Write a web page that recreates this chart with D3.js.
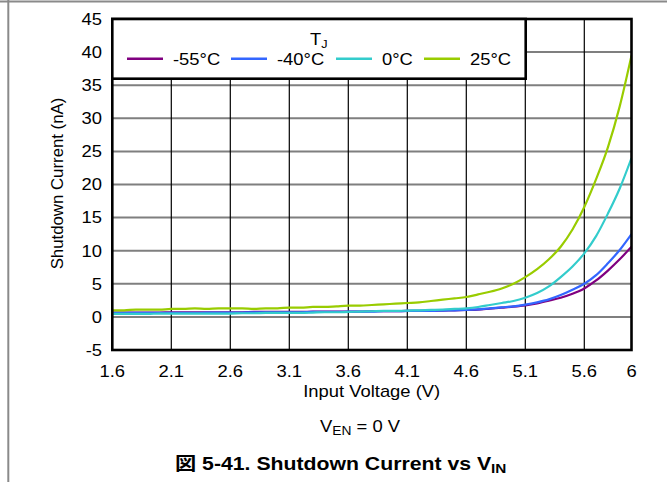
<!DOCTYPE html>
<html>
<head>
<meta charset="utf-8">
<script src="https://cdn.jsdelivr.net/npm/d3@7"></script>
<style>
body { margin: 0; background: #fff; }
text { font-family: "Liberation Sans", Arial, "Noto Sans CJK JP", sans-serif; fill: #000; }
</style>
</head>
<body>
<svg></svg>
<script>
// chart size and plot box
var width = 667;
var height = 482;
var plotLeft = 112.3, plotRight = 631.5, plotTop = 19, plotBottom = 350;
var stretch = 1.15; // text in the reference is a bit wide

// data
var voltage = [1.6,1.7,1.8,1.9,2.0,2.1,2.2,2.3,2.4,2.5,2.6,2.7,2.8,2.9,3.0,3.1,3.2,3.3,3.4,3.5,
               3.6,3.7,3.8,3.9,4.0,4.1,4.2,4.3,4.4,4.5,4.6,4.7,4.8,4.9,5.0,5.1,5.2,5.3,5.4,5.5,
               5.6,5.7,5.8,5.9,6.0];
var currentM55 = [0.65,0.65,0.65,0.65,0.65,0.7,0.7,0.7,0.7,0.7,
                  0.7,0.7,0.75,0.75,0.75,0.75,0.75,0.8,0.8,0.8,
                  0.8,0.8,0.85,0.85,0.85,0.9,0.9,0.9,0.95,1.0,
                  1.05,1.1,1.25,1.4,1.55,1.75,2.05,2.45,2.9,3.5,
                  4.3,5.5,7.0,8.7,10.6];
var currentM40 = [0.6,0.6,0.6,0.6,0.6,0.6,0.6,0.6,0.65,0.65,
                  0.65,0.65,0.7,0.7,0.7,0.7,0.7,0.75,0.75,0.75,
                  0.8,0.8,0.8,0.85,0.85,0.9,0.9,0.9,0.95,1.0,
                  1.05,1.15,1.3,1.45,1.6,1.85,2.2,2.65,3.3,4.1,
                  5.0,6.3,8.1,10.1,12.5];
var current0 = [0.45,0.45,0.45,0.45,0.5,0.5,0.5,0.5,0.5,0.5,
                0.5,0.55,0.55,0.6,0.6,0.6,0.6,0.65,0.7,0.7,
                0.75,0.8,0.85,0.9,0.9,0.95,1.0,1.05,1.1,1.2,
                1.3,1.5,1.8,2.1,2.4,2.9,3.6,4.6,6.0,7.6,
                9.6,12.2,15.6,19.4,24.0];
var current25 = [1.0,1.0,1.1,1.1,1.1,1.2,1.2,1.3,1.2,1.3,
                 1.3,1.3,1.2,1.3,1.3,1.4,1.4,1.5,1.5,1.6,
                 1.7,1.7,1.8,1.9,2.0,2.1,2.2,2.4,2.6,2.8,
                 3.0,3.4,3.8,4.3,5.0,6.0,7.2,8.7,10.6,13.2,
                 16.6,20.8,25.6,31.8,39.5];
var seriesNames = ["-55°C", "-40°C", "0°C", "25°C"];
var seriesColors = ["#800080", "#3366ff", "#33cccc", "#99cc00"];
var xTicks = [1.6, 2.1, 2.6, 3.1, 3.6, 4.1, 4.6, 5.1, 5.6, 6];
var yTicks = [-5, 0, 5, 10, 15, 20, 25, 30, 35, 40, 45];

var series = [currentM55, currentM40, current0, current25];

var svg = d3.select('svg')
	.attr('width', width)
	.attr('height', height);

// outer frame of the figure
svg.append('line').attr('x1', 0).attr('x2', width).attr('y1', 1.5).attr('y2', 1.5)
	.attr('stroke', '#8a8a8a').attr('stroke-width', 2);
svg.append('line').attr('x1', 8.3).attr('x2', 8.3).attr('y1', 0).attr('y2', height)
	.attr('stroke', '#8a8a8a').attr('stroke-width', 2);

var xScale = d3.scaleLinear().domain([1.6, 6]).range([plotLeft, plotRight]);
var yScale = d3.scaleLinear().domain([-5, 45]).range([plotBottom, plotTop]);

// grid
svg.append('g').selectAll('line')
	.data(yTicks.slice(1, -1))
	.enter().append('line')
	.attr('x1', plotLeft).attr('x2', plotRight)
	.attr('y1', d => yScale(d)).attr('y2', d => yScale(d))
	.attr('stroke', '#7f7f7f').attr('stroke-width', 2);

svg.append('g').selectAll('line')
	.data(xTicks.slice(1, -1))
	.enter().append('line')
	.attr('x1', d => xScale(d)).attr('x2', d => xScale(d))
	.attr('y1', plotTop).attr('y2', plotBottom)
	.attr('stroke', '#000').attr('stroke-width', 1.2);

// curves
svg.append('clipPath').attr('id', 'clip')
	.append('rect').attr('x', plotLeft).attr('y', plotTop)
	.attr('width', plotRight - plotLeft).attr('height', plotBottom - plotTop);

var line = d3.line()
	.x((d, i) => xScale(voltage[i]))
	.y(d => yScale(d))
	.curve(d3.curveMonotoneX);

svg.append('g').attr('clip-path', 'url(#clip)')
	.selectAll('path')
	.data(series)
	.enter().append('path')
	.attr('d', line)
	.attr('fill', 'none')
	.attr('stroke', (d, i) => seriesColors[i])
	.attr('stroke-width', 2.2);

// plot border
svg.append('rect')
	.attr('x', plotLeft).attr('y', plotTop)
	.attr('width', plotRight - plotLeft).attr('height', plotBottom - plotTop)
	.attr('fill', 'none').attr('stroke', '#000').attr('stroke-width', 2.6);

// tick labels
svg.append('g').selectAll('text')
	.data(yTicks)
	.enter().append('text')
	.attr('transform', d => 'translate(102,' + (yScale(d) + 5.8) + ') scale(' + stretch + ',1)')
	.attr('text-anchor', 'end')
	.style('font-size', '16px')
	.text(d => d);

svg.append('g').selectAll('text')
	.data(xTicks)
	.enter().append('text')
	.attr('transform', d => 'translate(' + xScale(d) + ',376.7) scale(' + stretch + ',1)')
	.attr('text-anchor', 'middle')
	.style('font-size', '16px')
	.text(d => d);

// axis titles
svg.append('text')
	.attr('transform', 'translate(371.7,396.7) scale(' + stretch + ',1)')
	.attr('text-anchor', 'middle')
	.style('font-size', '16px')
	.text('Input Voltage (V)');

svg.append('text')
	.attr('transform', 'translate(63.3,183.5) rotate(-90) scale(1.05,1)')
	.attr('text-anchor', 'middle')
	.style('font-size', '16px')
	.text('Shutdown Current (nA)');

// legend
var legend = svg.append('g');
legend.append('rect')
	.attr('x', plotLeft).attr('y', plotTop)
	.attr('width', 525.7 - plotLeft).attr('height', 78.7 - plotTop)
	.attr('fill', '#fff').attr('stroke', '#000').attr('stroke-width', 2.6);

var legendTitle = legend.append('text')
	.attr('transform', 'translate(310,45) scale(' + stretch + ',1)')
	.style('font-size', '16px');
legendTitle.append('tspan').text('T');
legendTitle.append('tspan').attr('dy', 3).style('font-size', '11px').text('J');

var legendLineX = [127, 231, 336, 424];
var legendItem = legend.selectAll('.item')
	.data(seriesNames)
	.enter().append('g')
	.attr('class', 'item')
	.attr('transform', (d, i) => 'translate(' + legendLineX[i] + ',0)');
legendItem.append('line')
	.attr('x1', 0).attr('x2', 36).attr('y1', 58.7).attr('y2', 58.7)
	.attr('stroke', (d, i) => seriesColors[i]).attr('stroke-width', 2.4);
legendItem.append('text')
	.attr('transform', 'translate(46,65) scale(' + stretch + ',1)')
	.style('font-size', '16px')
	.text(d => d);

// condition note
var note = svg.append('text')
	.attr('transform', 'translate(320,431.7) scale(' + stretch + ',1)')
	.style('font-size', '16px');
note.append('tspan').text('V');
note.append('tspan').attr('dy', 3).style('font-size', '12px').text('EN');
note.append('tspan').attr('dy', -3).text(' = 0 V');

// caption
var caption = svg.append('text')
	.attr('transform', 'translate(175,470) scale(1.18,1)')
	.style('font-size', '18px')
	.style('font-weight', 'bold');
caption.append('tspan').text('図 5-41. Shutdown Current vs V');
caption.append('tspan').attr('dy', 3).style('font-size', '13px').text('IN');
</script>
</body>
</html>
